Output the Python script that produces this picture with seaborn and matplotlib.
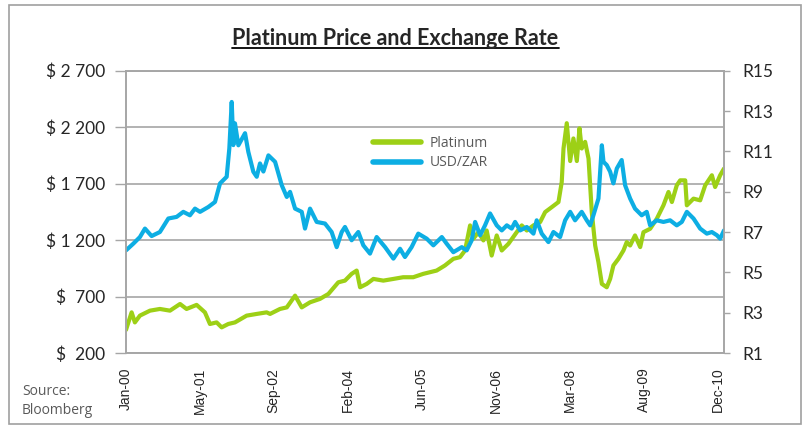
"""
Platinum price vs USD/ZAR, dual axis line chart
"""
import numpy as np
import pandas as pd
import seaborn as sns
import matplotlib
matplotlib.use("Agg")
import matplotlib.pyplot as plt
from matplotlib.lines import Line2D
from matplotlib.patches import Rectangle

# ========== data ==========
plat_dates = [
    "2000-01-03", "2000-02-10", "2000-03-03", "2000-04-06", "2000-06-13", "2000-08-19",
    "2000-10-26", "2001-01-02", "2001-02-15", "2001-04-24", "2001-06-19", "2001-07-23",
    "2001-09-06", "2001-10-10", "2001-11-24", "2002-01-08", "2002-03-28", "2002-06-04",
    "2002-08-10", "2002-09-02", "2002-11-08", "2002-12-24", "2003-02-18", "2003-04-04",
    "2003-05-30", "2003-08-05", "2003-10-01", "2003-12-07", "2004-01-21", "2004-03-06",
    "2004-04-09", "2004-05-02", "2004-06-16", "2004-07-31", "2004-10-06", "2004-12-13",
    "2005-02-17", "2005-04-26", "2005-07-03", "2005-10-01", "2005-11-26", "2006-01-22",
    "2006-03-08", "2006-04-11", "2006-05-15", "2006-06-06", "2006-07-10", "2006-08-13",
    "2006-09-04", "2006-10-08", "2006-11-11", "2006-12-15", "2007-01-29", "2007-03-26",
    "2007-04-29", "2007-06-02", "2007-07-17", "2007-08-31", "2007-10-04", "2007-11-18",
    "2008-01-02", "2008-01-24", "2008-02-05", "2008-02-27", "2008-03-21", "2008-04-12",
    "2008-05-05", "2008-05-23", "2008-06-07", "2008-06-30", "2008-07-23", "2008-08-14",
    "2008-09-06", "2008-09-28", "2008-10-21", "2008-11-23", "2008-12-16", "2009-01-07",
    "2009-02-10", "2009-03-16", "2009-04-07", "2009-04-30", "2009-06-02", "2009-07-07",
    "2009-07-29", "2009-09-12", "2009-10-27", "2009-12-11", "2010-01-14", "2010-02-06",
    "2010-03-11", "2010-04-03", "2010-05-07", "2010-05-18", "2010-07-02", "2010-08-16",
    "2010-09-19", "2010-11-03", "2010-11-25", "2010-12-29", "2011-01-24",
]
platinum = [
    405, 560, 471, 531, 575, 590,
    575, 634, 590, 626, 560, 457,
    471, 427, 457, 471, 531, 546,
    560, 546, 590, 604, 708, 604,
    649, 679, 723, 826, 841, 901,
    930, 782, 812, 856, 841, 856,
    871, 871, 901, 930, 975, 1034,
    1049, 1108, 1330, 1212, 1270, 1197,
    1285, 1063, 1241, 1108, 1167, 1270,
    1330, 1285, 1330, 1359, 1448, 1492,
    1537, 1714, 2011, 2235, 1900, 2100,
    1900, 2190, 2011, 2070, 1922, 1448,
    1152, 1004, 812, 782, 856, 975,
    1034, 1108, 1182, 1152, 1241, 1138,
    1270, 1300, 1389, 1508, 1626, 1537,
    1685, 1729, 1729, 1508, 1567, 1552,
    1685, 1774, 1670, 1774, 1833,
]

zar_dates = [
    "2000-01-03", "2000-02-21", "2000-04-06", "2000-05-10", "2000-06-24", "2000-08-19",
    "2000-10-15", "2000-12-10", "2001-01-24", "2001-03-10", "2001-04-13", "2001-05-17",
    "2001-07-12", "2001-08-26", "2001-09-29", "2001-11-13", "2001-12-01", "2001-12-17",
    "2001-12-28", "2002-01-08", "2002-01-31", "2002-03-17", "2002-04-08", "2002-05-12",
    "2002-06-04", "2002-06-26", "2002-07-19", "2002-08-22", "2002-10-06", "2002-11-20",
    "2002-12-24", "2003-01-15", "2003-02-18", "2003-04-04", "2003-04-26", "2003-05-30",
    "2003-07-14", "2003-09-08", "2003-10-23", "2003-11-26", "2003-12-30", "2004-01-21",
    "2004-03-06", "2004-04-20", "2004-05-24", "2004-07-08", "2004-08-22", "2004-10-18",
    "2004-12-13", "2005-01-27", "2005-03-01", "2005-04-15", "2005-05-30", "2005-07-26",
    "2005-09-09", "2005-11-05", "2005-12-08", "2006-01-22", "2006-03-20", "2006-04-22",
    "2006-05-26", "2006-06-18", "2006-07-22", "2006-08-24", "2006-09-27", "2006-11-11",
    "2006-12-15", "2007-01-18", "2007-02-20", "2007-03-15", "2007-04-18", "2007-06-02",
    "2007-07-17", "2007-08-08", "2007-09-11", "2007-10-26", "2007-11-29", "2008-01-13",
    "2008-02-16", "2008-03-21", "2008-04-23", "2008-06-07", "2008-07-11", "2008-08-03",
    "2008-08-25", "2008-09-28", "2008-10-21", "2008-11-01", "2008-11-23", "2008-12-16",
    "2009-01-07", "2009-01-30", "2009-03-04", "2009-03-27", "2009-04-30", "2009-06-02",
    "2009-07-17", "2009-08-20", "2009-09-12", "2009-10-27", "2009-12-11", "2010-01-25",
    "2010-03-11", "2010-04-14", "2010-05-18", "2010-07-02", "2010-08-16", "2010-09-30",
    "2010-11-03", "2010-12-07", "2010-12-29", "2011-01-24",
]
usd_zar = [
    6.09, 6.42, 6.75, 7.17, 6.80, 7.00,
    7.67, 7.75, 8.00, 7.83, 8.16, 8.00,
    8.24, 8.49, 9.41, 9.74, 11.15, 13.45,
    11.31, 12.39, 11.30, 11.90, 10.98, 9.99,
    9.74, 10.40, 10.00, 10.80, 10.48, 9.32,
    8.74, 8.99, 8.16, 8.00, 7.17, 8.16,
    7.50, 7.42, 7.00, 6.25, 7.00, 7.25,
    6.59, 7.00, 6.34, 5.93, 6.75, 6.25,
    5.68, 6.17, 5.76, 6.25, 6.92, 6.67,
    6.34, 6.75, 6.42, 6.00, 6.25, 6.09,
    6.59, 7.50, 6.84, 7.33, 7.92, 7.33,
    7.08, 7.33, 7.17, 7.50, 7.08, 7.25,
    6.92, 7.58, 6.92, 6.50, 7.00, 6.75,
    7.58, 8.00, 7.58, 8.00, 7.58, 7.33,
    7.83, 8.66, 11.30, 10.48, 10.32, 9.99,
    9.41, 10.15, 10.57, 9.32, 8.66, 8.16,
    7.83, 8.00, 7.33, 7.58, 7.50, 7.58,
    7.33, 7.50, 8.00, 7.67, 7.17, 6.92,
    7.00, 6.84, 6.67, 7.08,
]

usd_ticks = [200, 700, 1200, 1700, 2200, 2700]
usd_labels = ["$  200", "$  700", "$ 1 200", "$ 1 700", "$ 2 200", "$ 2 700"]
rand_ticks = [1, 3, 5, 7, 9, 11, 13, 15]
rand_labels = ["R1", "R3", "R5", "R7", "R9", "R11", "R13", "R15"]
date_ticks = pd.date_range("2000-01-01", periods=9, freq="500D")

plat_df = pd.DataFrame({"date": pd.to_datetime(plat_dates), "value": platinum})
zar_df = pd.DataFrame({"date": pd.to_datetime(zar_dates), "value": usd_zar})

# ========== style ==========
sns.set_style("white")
plt.rcParams['font.family'] = ['Lato', 'DejaVu Sans']

green = "#9DD016"
blue = "#0DAEE3"
grey = "#A6A6A6"

W, H = 806, 425
fig = plt.figure(figsize=(W / 100, H / 100), dpi=100)
ax = fig.add_axes([125.7 / W, 1 - 353 / H, (724 - 125.7) / W, (353 - 70.7) / H])
ax2 = ax.twinx()

sns.lineplot(data=plat_df, x="date", y="value", ax=ax, color=green, lw=3.0, label="Platinum", legend=False)
sns.lineplot(data=zar_df, x="date", y="value", ax=ax2, color=blue, lw=3.0, label="USD/ZAR", legend=False)

ax.set_ylim(200, 2700)
ax2.set_ylim(1, 15)
ax.set_xlim(pd.Timestamp("2000-01-01"), pd.Timestamp("2011-01-24"))

ax.set_yticks(usd_ticks)
ax.set_yticklabels(usd_labels, fontsize=12.5)
ax2.set_yticks(rand_ticks)
ax2.set_yticklabels(rand_labels, fontsize=12.5)
ax.set_xticks(date_ticks)
ax.set_xticklabels([d.strftime("%b-%y") for d in date_ticks], rotation=90,
                   fontsize=10, fontfamily="Liberation Sans")

ax.set_xlabel("")
ax.set_ylabel("")
ax2.set_ylabel("")

ax.grid(axis="y", color=grey, lw=1.2)
ax.grid(axis="x", visible=False)
ax2.grid(False)
for a in (ax, ax2):
    for s in a.spines.values():
        s.set_color(grey)
        s.set_linewidth(1.2)
ax.tick_params(axis="y", length=8, width=1, color=grey, pad=6.5, direction="out")
ax2.tick_params(axis="y", length=4.3, width=1, color=grey, pad=9, direction="out")
ax.tick_params(axis="x", length=3.6, width=1, color=grey, pad=7, direction="out")

# legend
h = [Line2D([], [], color=green, lw=4), Line2D([], [], color=blue, lw=4)]
leg = ax2.legend(h, ["Platinum", "USD/ZAR"], loc="upper left",
                 bbox_to_anchor=(0.393, 0.812), frameon=False, handlelength=3.4,
                 handletextpad=0.65, labelspacing=0.3,
                 prop={"family": "Open Sans", "size": 10})
for t in leg.get_texts():
    t.set_color("#595959")

# title with underline
title = fig.text(395.5 / W, 1 - 45 / H, "Platinum Price and Exchange Rate",
                 ha="center", va="baseline", fontsize=15.5, fontweight="bold")
fig.canvas.draw()
bb = title.get_window_extent()
uy = 1 - 47.5 / H
fig.add_artist(Line2D([bb.x0 / W, bb.x1 / W], [uy, uy], color="black", lw=1.3,
                      transform=fig.transFigure))

# source note
fig.text(22 / W, 1 - 395 / H, "Source:", fontsize=10, color="#595959",
         fontfamily="Open Sans", va="baseline")
fig.text(22 / W, 1 - 414 / H, "Bloomberg", fontsize=10, color="#595959",
         fontfamily="Open Sans", va="baseline")

# chart frame
fig.add_artist(Rectangle((8.5 / W, 1 - 423.5 / H), 792 / W, 419 / H, fill=False,
                         edgecolor="#A0A0A0", lw=1.2, transform=fig.transFigure))

fig.savefig("out.png", dpi=100)
